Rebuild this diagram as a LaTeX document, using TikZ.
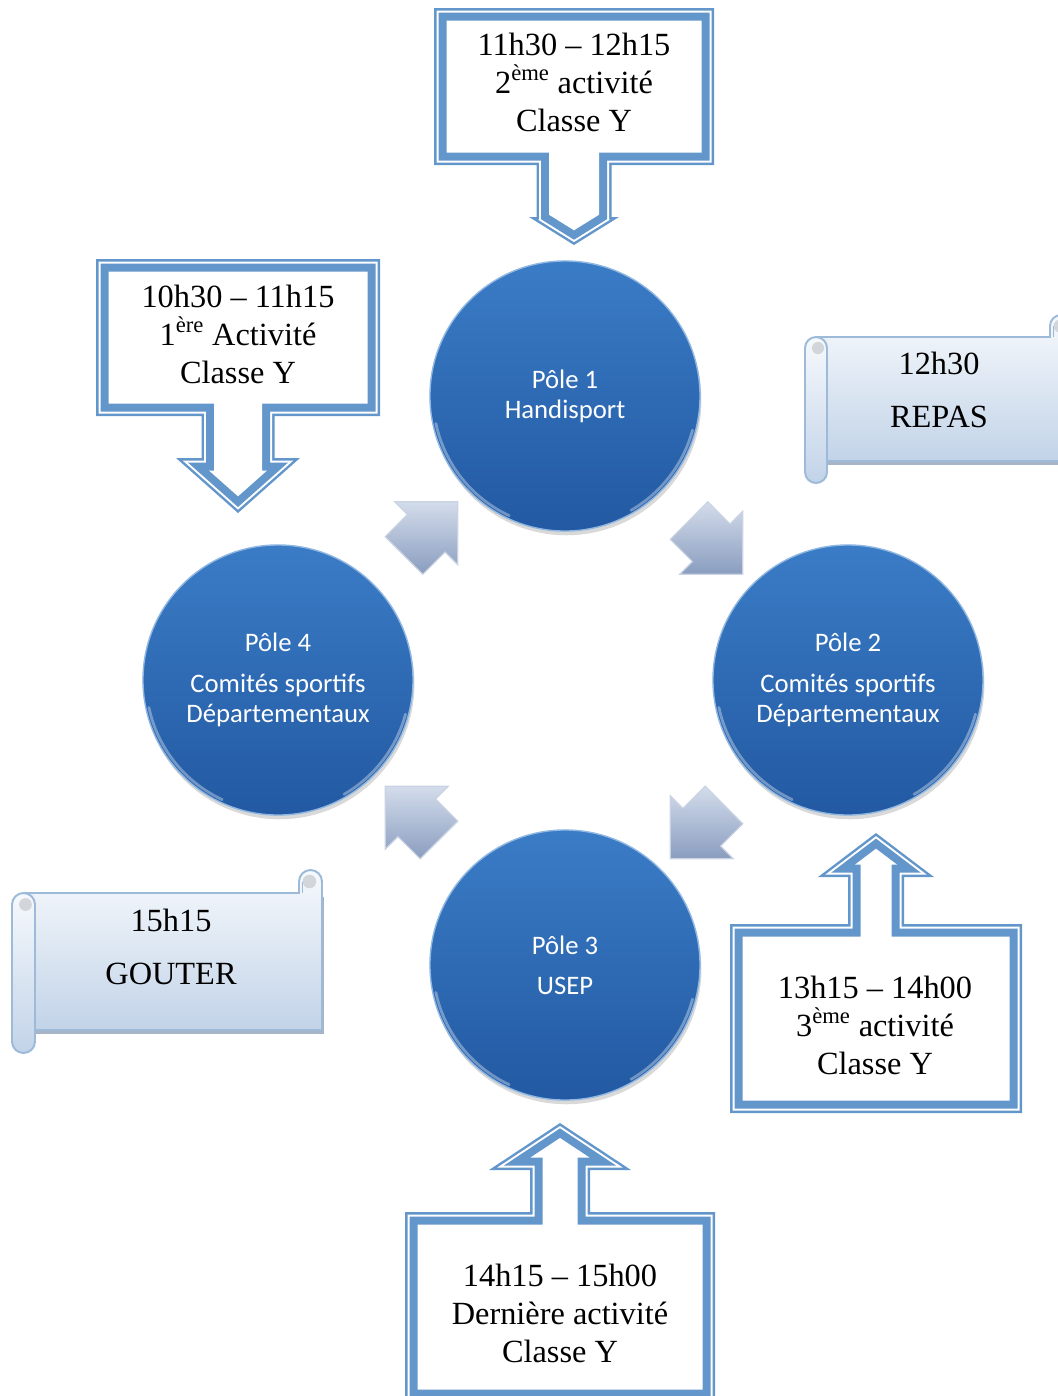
\documentclass[tikz,border=0pt]{standalone}
\usepackage{fontspec}
\setmainfont{Liberation Serif}
\newfontfamily\polefont{Carlito}
\definecolor{BandBlue}{HTML}{6396CA}
\definecolor{PoleTop}{HTML}{3B7CC6}
\definecolor{PoleBottom}{HTML}{2259A2}
\definecolor{PoleRim}{HTML}{8FB7E2}
\definecolor{ArrowLight}{HTML}{D3DCEB}
\definecolor{ArrowDark}{HTML}{8A9DBF}
\definecolor{ScrollLine}{HTML}{9DBAD9}
\definecolor{ScrollTop}{HTML}{F6F9FC}
\definecolor{ScrollBottom}{HTML}{C2D3E8}
\definecolor{ScrollShadow}{HTML}{A7B4C6}
\definecolor{CurlGrey}{HTML}{D2D5DA}
\usetikzlibrary{
  shapes.arrows,
  calc,
  shadows
}

% geometry of one callout: left, right, top, bottom of the box,
% stem centre, stem half width, head base, head half width, tip
\newcommand{\setcallout}[9]{%
  \def\coL{#1}\def\coR{#2}\def\coT{#3}\def\coB{#4}%
  \def\coX{#5}\def\coS{#6}\def\coY{#7}\def\coW{#8}\def\coZ{#9}}
% the callout outline, shrunk by #1
\newcommand{\cpoly}[2]{%
  \pgfmathsetmacro{\coK}{sqrt((\coZ-\coY)^2+\coW^2)/\coW}%
  \pgfmathsetmacro{\coZd}{\coZ-\coK*#1}%
  \pgfmathsetmacro{\coYd}{min(\coY+#1,\coZd-(\coS-#1)*(\coZ-\coY)/\coW)}%
  \pgfmathsetmacro{\coWd}{(\coZd-\coYd)*\coW/(\coZ-\coY)}%
  \fill[#2] (\coL+#1,\coT+#1) -- (\coR-#1,\coT+#1) -- (\coR-#1,\coB-#1)
    -- (\coX+\coS-#1,\coB-#1) -- (\coX+\coS-#1,\coYd) -- (\coX+\coWd,\coYd)
    -- (\coX,\coZd) -- (\coX-\coWd,\coYd) -- (\coX-\coS+#1,\coYd)
    -- (\coX-\coS+#1,\coB-#1) -- (\coL+#1,\coB-#1) -- cycle;}
\newcommand{\callout}{%
  \cpoly{0}{BandBlue}
  \cpoly{2.5}{white}
  \cpoly{4.5}{BandBlue}
  \cpoly{12.5}{white}}

% horizontal scroll: x0, x1, y0, y1, roll size
\newcommand{\scrollshape}[5]{%
  \fill[ScrollShadow] (#1+#5/2+2,#3+#5+4) rectangle (#2+2,#4-#5+4);
  \draw[scroll] (#1+#5/2,#3+#5) -- (#2-#5,#3+#5) -- (#2-#5,#3+#5/2)
    arc[start angle=180, end angle=360, radius=#5/2] -- (#2,#4-#5)
    -- (#1+#5/2,#4-#5) -- cycle;
  \fill[CurlGrey] (#2-#5/2-1,#3+#5/2) circle[radius=#5/3.4];
  \draw[ScrollLine, line width=1pt] (#2-#5/2-#5/3.4-1,#3+#5/2) -- (#2-#5/2-#5/3.4-1,#3+#5);
  \draw[scroll] (#1,#3+1.5*#5) -- (#1,#4-#5/2)
    arc[start angle=180, end angle=0, radius=#5/2] -- (#1+#5,#3+1.5*#5)
    arc[start angle=0, end angle=-180, radius=#5/2] -- cycle;
  \fill[CurlGrey] (#1+#5/2+2,#3+1.5*#5) circle[radius=#5/3.6];}

\begin{document}
\begin{tikzpicture}[
  x=0.025cm, y=-0.025cm,
  pole/.style={
    circle, minimum size=6.75cm, inner sep=0pt,
    top color=PoleTop, bottom color=PoleBottom,
    draw=PoleRim, line width=1pt,
    drop shadow={shadow xshift=1pt, shadow yshift=-3pt, opacity=0.3},
    text=white, align=center,
    font=\polefont\fontsize{19}{21.5}\selectfont
  },
  flowarr/.style={
    single arrow, minimum height=1.9cm,
    inner xsep=0pt, inner ysep=0.65cm,
    single arrow head extend=0.45cm,
    top color=ArrowLight, bottom color=ArrowDark,
    draw=white!55!ArrowDark, line width=0.8pt
  },
  rimhl/.style={
    white, opacity=0.35, line width=2pt, line cap=round
  },
  ctext/.style={
    align=center, inner sep=0pt,
    font=\fontsize{23}{27}\selectfont
  },
  stext/.style={
    align=center, inner sep=0pt,
    font=\fontsize{23}{37.6}\selectfont
  },
  scroll/.style={
    draw=ScrollLine, line width=1.4pt,
    top color=ScrollTop, bottom color=ScrollBottom
  }
]
  \useasboundingbox (0,0) rectangle (1058,1396);

  % scrolls
  \scrollshape{805}{1072}{315}{483}{22}
  \scrollshape{12}{322}{870}{1053}{23}

  % callouts pointing down
  \setcallout{434}{714}{8}{165}{574}{37.5}{217}{45}{245}
  \callout
  \setcallout{96}{380}{259}{416}{238}{36.5}{458}{62}{513}
  \callout
  % callouts pointing up
  \begin{scope}[yscale=-1]
    \setcallout{730}{1022}{-1113}{-924}{876}{28}{-877}{58}{-833}
    \callout
    \setcallout{405}{715}{-1402}{-1212}{560}{30}{-1170}{71}{-1123}
    \callout
  \end{scope}

  % poles
  \node[pole] (p1) at (565,396) {Pôle 1\\Handisport};
  \node[pole] (p2) at (848,680) {Pôle 2\\[7pt]Comités sportifs\\Départementaux};
  \node[pole] (p3) at (565,965) {Pôle 3\\[7pt]USEP};
  \node[pole] (p4) at (278,680) {Pôle 4\\[7pt]Comités sportifs\\Départementaux};

  \foreach \p in {p1,p2,p3,p4} {
    \draw[rimhl] (\p) ++(-192:132) arc[start angle=-192, end angle=-245, radius=132];
    \draw[rimhl] (\p) ++(-300:132) arc[start angle=-300, end angle=-345, radius=132];
  }

  % arrows between the poles
  \node[flowarr, rotate=45] (a41) at ($(p4)!0.5!(p1)$) {};
  \node[flowarr, rotate=-45] (a12) at ($(p1)!0.5!(p2)$) {};
  \node[flowarr, rotate=-135] (a23) at ($(p2)!0.5!(p3)$) {};
  \node[flowarr, rotate=135] (a34) at ($(p3)!0.5!(p4)$) {};

  % callout texts
  \node[ctext] (t2) at (574,82) {11h30 – 12h15\\2\textsuperscript{ème} activité\\Classe Y};
  \node[ctext] (t1) at (238,334) {10h30 – 11h15\\1\textsuperscript{ère} Activité\\Classe Y};
  \node[ctext] (t3) at (875,1025) {13h15 – 14h00\\3\textsuperscript{ème} activité\\Classe Y};
  \node[ctext] (t4) at (560,1313) {14h15 – 15h00\\Dernière activité\\Classe Y};

  % scroll texts
  \node[stext] (repas) at (939,390) {12h30\\REPAS};
  \node[stext] (gouter) at (171,947) {15h15\\GOUTER};
\end{tikzpicture}
\end{document}
